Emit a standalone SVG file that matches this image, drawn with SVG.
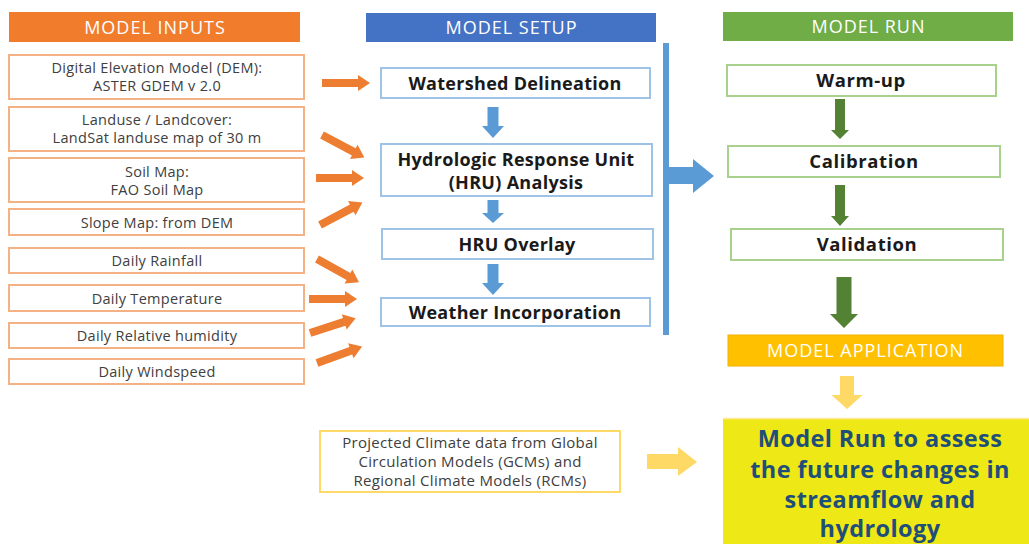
<svg xmlns="http://www.w3.org/2000/svg" width="1029" height="544" viewBox="0 0 1029 544">
<style>
.hdr{font-family:"Open Sans","Liberation Sans",sans-serif;font-size:18px;letter-spacing:1px;fill:#ffffff;text-anchor:middle}
.inp{fill:#ffffff;stroke:#F4B183;stroke-width:2}
.it{font-family:"Open Sans","Liberation Sans",sans-serif;font-size:14.5px;letter-spacing:0.3px;fill:#404040;text-anchor:middle}
.pt{font-family:"Open Sans","Liberation Sans",sans-serif;font-size:15px;letter-spacing:0.3px;fill:#404040;text-anchor:middle}
.sb{fill:#ffffff;stroke:#9DC3E6;stroke-width:2}
.rb{fill:#ffffff;stroke:#A9D18E;stroke-width:2}
.bt{font-family:"Open Sans","Liberation Sans",sans-serif;font-size:18px;letter-spacing:0.3px;font-weight:bold;fill:#1a1a1a;text-anchor:middle}
.rt{font-family:"Open Sans","Liberation Sans",sans-serif;font-size:18.5px;letter-spacing:0.6px;font-weight:bold;fill:#1a1a1a;text-anchor:middle}
.fin{font-family:"Open Sans","Liberation Sans",sans-serif;font-size:23.5px;letter-spacing:0.4px;font-weight:bold;fill:#1F4E79;text-anchor:middle}
.oa{fill:#ED7D31}
.ba{fill:#5B9BD5}
.ga{fill:#548235}
.ya{fill:#FFD966}
</style>
<defs>
<path id="oarrow" d="M0,-4 L36,-4 L36,-8 L48,0 L36,8 L36,4 L0,4 Z"/>
</defs>
<rect width="1029" height="544" fill="#ffffff"/>

<g id="hdr-inputs">
<rect x="9" y="12" width="291" height="30" fill="#F07C2C"/>
<text class="hdr" x="155" y="33.5">MODEL INPUTS</text>
</g>
<g id="hdr-setup">
<rect x="366" y="13" width="290" height="29" fill="#4472C4"/>
<text class="hdr" x="511.5" y="34">MODEL SETUP</text>
</g>
<g id="hdr-run">
<rect x="723" y="12" width="290" height="29" fill="#70AD47"/>
<text class="hdr" x="868.5" y="33">MODEL RUN</text>
</g>

<g id="in-dem"><rect class="inp" x="9" y="55" width="295" height="44"/>
<text class="it" x="157" y="73">Digital Elevation Model (DEM):</text>
<text class="it" x="157" y="91">ASTER GDEM v 2.0</text></g>
<g id="in-landuse"><rect class="inp" x="9" y="107" width="295" height="44"/>
<text class="it" x="157" y="125">Landuse / Landcover:</text>
<text class="it" x="157" y="143">LandSat landuse map of 30 m</text></g>
<g id="in-soil"><rect class="inp" x="9" y="158" width="295" height="44"/>
<text class="it" x="157" y="177">Soil Map:</text>
<text class="it" x="157" y="195">FAO Soil Map</text></g>
<g id="in-slope"><rect class="inp" x="9" y="209" width="295" height="26"/>
<text class="it" x="157" y="228">Slope Map: from DEM</text></g>
<g id="in-rain"><rect class="inp" x="9" y="248" width="295" height="25"/>
<text class="it" x="157" y="266">Daily Rainfall</text></g>
<g id="in-temp"><rect class="inp" x="9" y="285" width="295" height="26"/>
<text class="it" x="157" y="304">Daily Temperature</text></g>
<g id="in-hum"><rect class="inp" x="9" y="323" width="295" height="25"/>
<text class="it" x="157" y="341">Daily Relative humidity</text></g>
<g id="in-wind"><rect class="inp" x="9" y="359" width="295" height="25"/>
<text class="it" x="157" y="377">Daily Windspeed</text></g>

<g id="setup-watershed"><rect class="sb" x="381" y="68" width="269" height="30"/>
<text class="bt" x="515" y="90">Watershed Delineation</text></g>
<g id="setup-hru"><rect class="sb" x="381" y="144" width="271" height="52"/>
<text class="bt" x="516" y="166">Hydrologic Response Unit</text>
<text class="bt" x="516" y="189">(HRU) Analysis</text></g>
<g id="setup-overlay"><rect class="sb" x="382" y="229" width="271" height="30"/>
<text class="bt" x="517" y="251">HRU Overlay</text></g>
<g id="setup-weather"><rect class="sb" x="381" y="298" width="269" height="28"/>
<text class="bt" x="515" y="319">Weather Incorporation</text></g>

<g id="run-warmup"><rect class="rb" x="727" y="65" width="269" height="31"/>
<text class="rt" x="861" y="87">Warm-up</text></g>
<g id="run-calibration"><rect class="rb" x="728" y="146" width="272" height="31"/>
<text class="rt" x="864" y="168">Calibration</text></g>
<g id="run-validation"><rect class="rb" x="731" y="229" width="272" height="31"/>
<text class="rt" x="867" y="251">Validation</text></g>

<g id="model-application"><rect x="728" y="335" width="275" height="31" fill="#FFC000" stroke="#F2B200" stroke-width="1"/>
<text class="hdr" x="865.5" y="357">MODEL APPLICATION</text></g>

<g id="projected"><rect x="320" y="431" width="300" height="61" fill="#ffffff" stroke="#FFD966" stroke-width="2"/>
<text class="pt" x="470" y="448">Projected Climate data from Global</text>
<text class="pt" x="470" y="467">Circulation Models (GCMs) and</text>
<text class="pt" x="470" y="486">Regional Climate Models (RCMs)</text></g>

<g id="final"><rect x="723" y="418" width="310" height="130" fill="#EEE817"/>
<line x1="723" y1="418.5" x2="1029" y2="418.5" stroke="#FFE9A0" stroke-width="1.5"/>
<text class="fin" x="880" y="447">Model Run to assess</text>
<text class="fin" x="880" y="478">the future changes in</text>
<text class="fin" x="880" y="508">streamflow and</text>
<text class="fin" x="880" y="537">hydrology</text></g>

<g id="connectors">
<use href="#oarrow" class="oa" transform="translate(322,83)"/>
<use href="#oarrow" class="oa" transform="translate(322,135) rotate(28)"/>
<use href="#oarrow" class="oa" transform="translate(316,178)"/>
<use href="#oarrow" class="oa" transform="translate(320,225) rotate(-28)"/>
<use href="#oarrow" class="oa" transform="translate(317,259) rotate(29)"/>
<use href="#oarrow" class="oa" transform="translate(309,299)"/>
<use href="#oarrow" class="oa" transform="translate(310,333) rotate(-18)"/>
<use href="#oarrow" class="oa" transform="translate(317,363) rotate(-20)"/>

<path class="ba" d="M487.5,107 L498.5,107 L498.5,126 L504,126 L493,138 L482,126 L487.5,126 Z"/>
<path class="ba" d="M487.5,200 L498.5,200 L498.5,213 L504,213 L493,223 L482,213 L487.5,213 Z"/>
<path class="ba" d="M487.5,264 L498.5,264 L498.5,283 L504,283 L493,295 L482,283 L487.5,283 Z"/>

<rect class="ba" x="663" y="43" width="6" height="292"/>
<path class="ba" d="M669,167 L693,167 L693,159 L714,176 L693,193 L693,184 L669,184 Z"/>

<path class="ga" d="M835,99 L845,99 L845,130 L849,130 L840,139 L831,130 L835,130 Z"/>
<path class="ga" d="M835,185 L845,185 L845,216 L849,216 L840,226 L831,216 L835,216 Z"/>
<path class="ga" d="M836.5,277 L851.5,277 L851.5,314 L858,314 L844,328 L830,314 L836.5,314 Z"/>

<path class="ya" d="M840,376 L854,376 L854,395 L862.5,395 L847,409 L831.5,395 L840,395 Z"/>
<path class="ya" d="M647,454 L678,454 L678,447 L697,462 L678,476 L678,469 L647,469 Z"/>
</g>
</svg>
